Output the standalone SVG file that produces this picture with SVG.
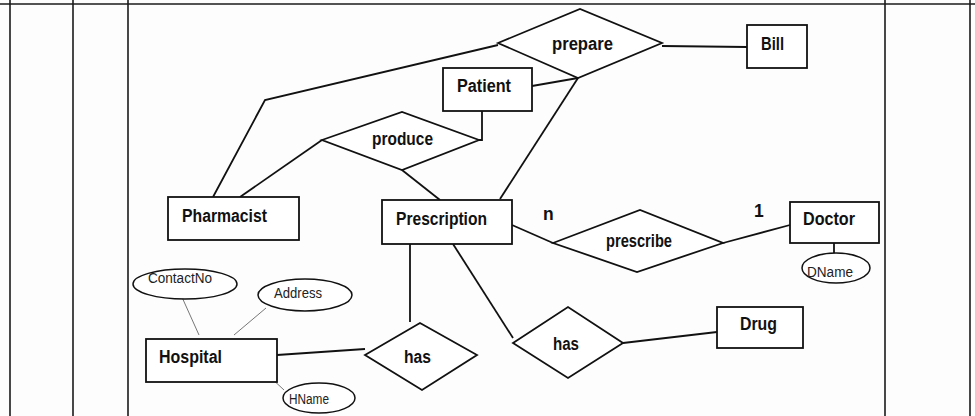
<svg xmlns="http://www.w3.org/2000/svg" width="975" height="416" viewBox="0 0 975 416">
<style>
.frame{stroke:#1a1a1a;stroke-width:1.6;fill:none}
.ent{fill:#fff;stroke:#111;stroke-width:1.8}
.rel{fill:#fff;stroke:#111;stroke-width:1.8;stroke-linejoin:miter}
.att{fill:#fff;stroke:#111;stroke-width:1.5}
.lbl{font-family:"Liberation Sans",Arial,sans-serif;font-weight:bold;font-size:17.5px;fill:#111}
.albl{font-family:"Liberation Sans",Arial,sans-serif;font-size:14px;fill:#222}
.ln{stroke:#111;stroke-width:1.8;fill:none}
.thin{stroke:#777;stroke-width:1;fill:none}
</style>
<rect width="975" height="416" fill="#fdfdfd"/>
<g id="frame">
<line class="frame" x1="0" y1="4" x2="975" y2="4"/>
<line class="frame" x1="10" y1="0" x2="10" y2="416"/>
<line class="frame" x1="73" y1="0" x2="73" y2="416"/>
<line class="frame" x1="128" y1="0" x2="128" y2="416"/>
<line class="frame" x1="885" y1="0" x2="885" y2="416"/>
<line class="frame" x1="970" y1="0" x2="970" y2="416"/>
</g>
<g id="connectors">
<polyline class="ln" points="213,197 265,100 498,45"/>
<line class="ln" x1="240" y1="197" x2="322" y2="140"/>
<polyline class="ln" points="479,140 482,140 482,111"/>
<line class="ln" x1="402" y1="170" x2="440" y2="200"/>
<line class="ln" x1="532" y1="86" x2="578" y2="78"/>
<line class="ln" x1="500" y1="199" x2="578" y2="78"/>
<line class="ln" x1="662" y1="46" x2="747" y2="47"/>
<line class="ln" x1="512" y1="225" x2="553" y2="243"/>
<line class="ln" x1="723" y1="243" x2="790" y2="225"/>
<line class="ln" x1="834" y1="243" x2="834" y2="253"/>
<line class="ln" x1="410" y1="244" x2="410" y2="322"/>
<line class="ln" x1="453" y1="244" x2="513" y2="338"/>
<line class="ln" x1="623" y1="343" x2="717" y2="332"/>
<line class="ln" x1="277" y1="355" x2="365" y2="349"/>
<line class="thin" x1="181" y1="295" x2="199" y2="335"/>
<line class="thin" x1="266" y1="308" x2="234" y2="335"/>
<line class="thin" x1="270" y1="377" x2="284" y2="390"/>
</g>
<g id="Pharmacist"><rect class="ent" x="168" y="197" width="131" height="43"/><text class="lbl" x="182" y="222" textLength="85" lengthAdjust="spacingAndGlyphs">Pharmacist</text></g>
<g id="Prescription"><rect class="ent" x="382" y="200" width="130" height="44"/><text class="lbl" x="396" y="225" textLength="91" lengthAdjust="spacingAndGlyphs">Prescription</text></g>
<g id="Patient"><rect class="ent" x="443" y="68" width="89" height="43"/><text class="lbl" x="457" y="92" textLength="54" lengthAdjust="spacingAndGlyphs">Patient</text></g>
<g id="Bill"><rect class="ent" x="747" y="25" width="60" height="43"/><text class="lbl" x="761" y="50" textLength="23" lengthAdjust="spacingAndGlyphs">Bill</text></g>
<g id="Doctor"><rect class="ent" x="790" y="202" width="89" height="41"/><text class="lbl" x="803" y="225" textLength="52" lengthAdjust="spacingAndGlyphs">Doctor</text></g>
<g id="Drug"><rect class="ent" x="717" y="307" width="86" height="41"/><text class="lbl" x="740" y="330" textLength="37" lengthAdjust="spacingAndGlyphs">Drug</text></g>
<g id="Hospital"><rect class="ent" x="146" y="339" width="131" height="43"/><text class="lbl" x="159" y="363" textLength="63" lengthAdjust="spacingAndGlyphs">Hospital</text></g>
<g id="prepare"><polygon class="rel" points="498,43 580,9 662,43 578,78"/><text class="lbl" x="552" y="50" textLength="61" lengthAdjust="spacingAndGlyphs">prepare</text></g>
<g id="produce"><polygon class="rel" points="322,140 402,112 479,140 402,170"/><text class="lbl" x="372" y="145" textLength="61" lengthAdjust="spacingAndGlyphs">produce</text></g>
<g id="prescribe"><polygon class="rel" points="553,243 640,210 723,243 637,272"/><text class="lbl" x="606" y="247" textLength="66" lengthAdjust="spacingAndGlyphs">prescribe</text></g>
<g id="has1"><polygon class="rel" points="365,355 420,323 477,355 422,390"/><text class="lbl" x="404" y="363" textLength="27" lengthAdjust="spacingAndGlyphs">has</text></g>
<g id="has2"><polygon class="rel" points="513,343 568,307 623,343 568,378"/><text class="lbl" x="553" y="350" textLength="26" lengthAdjust="spacingAndGlyphs">has</text></g>
<g id="ContactNo"><ellipse class="att" cx="185" cy="284" rx="52" ry="15"/><text class="albl" x="148" y="283" textLength="64" lengthAdjust="spacingAndGlyphs">ContactNo</text></g>
<g id="Address"><ellipse class="att" cx="305" cy="295" rx="47" ry="16"/><text class="albl" x="274" y="298" textLength="48" lengthAdjust="spacingAndGlyphs">Address</text></g>
<g id="HName"><ellipse class="att" cx="319" cy="398" rx="36" ry="15"/><text class="albl" x="289" y="404" textLength="40" lengthAdjust="spacingAndGlyphs">HName</text></g>
<g id="DName"><ellipse class="att" cx="836" cy="268" rx="34" ry="15"/><text class="albl" x="807" y="277" textLength="46" lengthAdjust="spacingAndGlyphs">DName</text></g>
<g id="cardinality">
<text class="lbl" x="543" y="220">n</text>
<text class="lbl" x="754" y="217">1</text>
</g>
</svg>
